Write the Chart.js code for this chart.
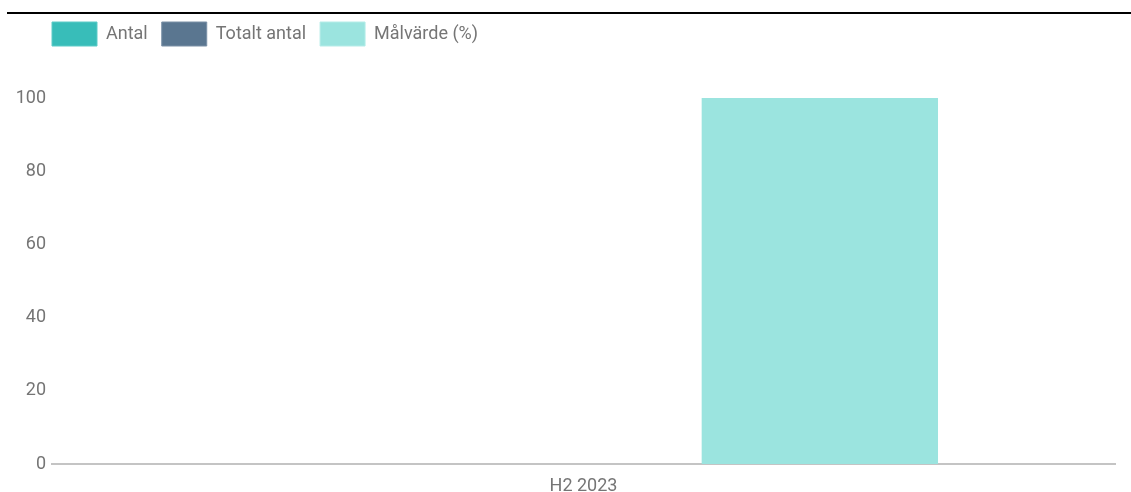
<!DOCTYPE html>
<html>
<head>
<meta charset="utf-8">
<script src="https://cdn.jsdelivr.net/npm/chart.js@4.4.1/dist/chart.umd.min.js"></script>
<style>
  html, body { margin: 0; padding: 0; background: #fff; }
  #wrap { position: relative; width: 1131px; height: 492px; }
  #topline { position: absolute; left: 7px; right: 0; top: 12px; height: 2px; background: #000; }
  #c { position: absolute; left: 0; top: 0; }
</style>
</head>
<body>
<div id="wrap">
  <div id="topline"></div>
  <canvas id="c" width="1131" height="492"></canvas>
</div>
<script>
const categories = ['H2 2023'];
const antal = [0];
const totaltAntal = [0];
const malvarde = [100];
const yTickStep = 20;
const yMax = 100;

Chart.defaults.font.family = 'Roboto';
Chart.defaults.font.size = 18;
Chart.defaults.color = '#757575';

const legendSpacer = {
  id: 'legendSpacer',
  beforeInit(chart) {
    const fit = chart.legend.fit;
    chart.legend.fit = function () {
      fit.call(this);
      this.height = 90;
    };
  },
  afterLayout(chart) {
    const lg = chart.legend;
    const shift = 52 - 14 - lg.left;
    lg.left += shift;
    lg.right += shift;
  }
};

new Chart(document.getElementById('c'), {
  type: 'bar',
  data: {
    labels: categories,
    datasets: [
      { label: 'Antal', data: antal, backgroundColor: '#38bdb9', borderColor: '#5ccbc7', borderWidth: 0 },
      { label: 'Totalt antal', data: totaltAntal, backgroundColor: '#5a7690', borderColor: '#7a90a6', borderWidth: 0 },
      { label: 'Målvärde (%)', data: malvarde, backgroundColor: '#9be4df', borderColor: '#b5ece8', borderWidth: 0 }
    ]
  },
  options: {
    responsive: false,
    animation: false,
    events: [],
    layout: { padding: { top: 8, left: 14, right: 16, bottom: 0 } },
    datasets: { bar: { categoryPercentage: 0.667, barPercentage: 1.0 } },
    plugins: {
      legend: {
        display: true,
        position: 'top',
        align: 'start',
        labels: {
          boxWidth: 45,
          boxHeight: 24,
          padding: 14,
          color: '#757575',
          font: { size: 18 },
          generateLabels(chart) {
            return chart.data.datasets.map((ds, i) => ({
              text: ds.label,
              fillStyle: ds.backgroundColor,
              strokeStyle: ds.borderColor,
              lineWidth: 1,
              fontColor: '#757575',
              hidden: false,
              datasetIndex: i
            }));
          }
        }
      },
      tooltip: { enabled: false }
    },
    scales: {
      x: {
        grid: { display: false },
        border: { display: true, color: '#c4c4c4', width: 2 },
        ticks: { color: '#757575', font: { size: 18 }, padding: 4 },
        afterFit(scale) { scale.height = 28; }
      },
      y: {
        min: 0,
        max: yMax,
        grid: { display: false, drawTicks: false },
        border: { display: false },
        ticks: { stepSize: yTickStep, color: '#757575', font: { size: 18 }, padding: 6 },
        afterFit(scale) { scale.width = 38; }
      }
    }
  },
  plugins: [legendSpacer]
});
</script>
</body>
</html>
